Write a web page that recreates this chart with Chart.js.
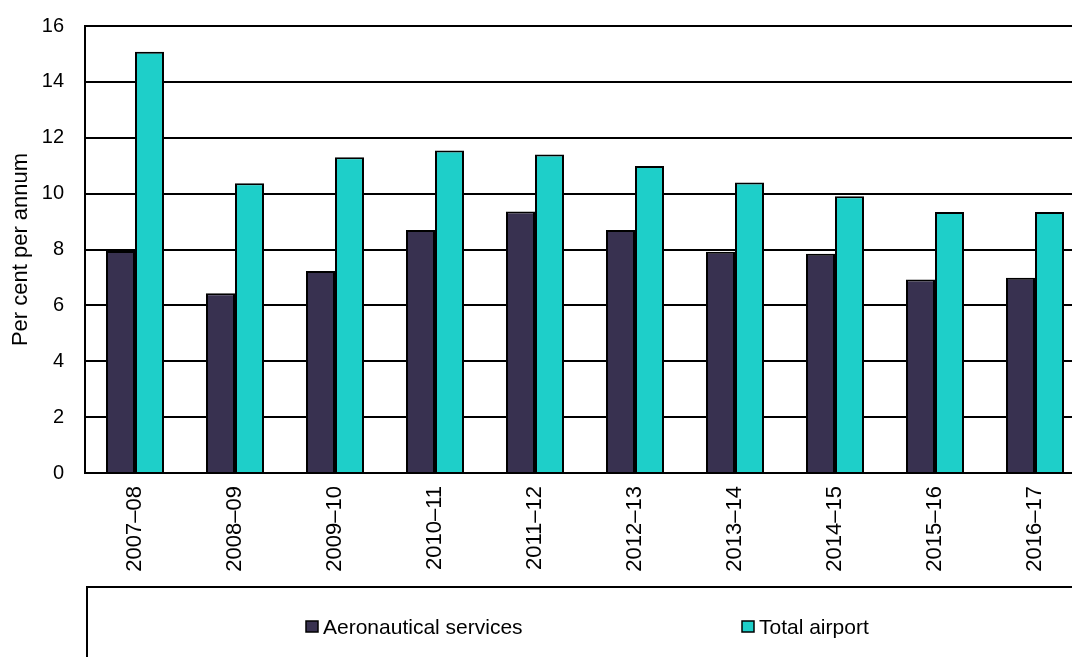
<!DOCTYPE html>
<html>
<head>
<meta charset="utf-8">
<script src="https://cdn.jsdelivr.net/npm/chart.js@4/dist/chart.umd.min.js"></script>
<style>
  html, body { margin: 0; padding: 0; background: #fff; overflow: hidden; }
  #wrap { width: 1090px; height: 657px; }
</style>
</head>
<body>
<div id="wrap"><canvas id="bar-chart" width="1090" height="657"></canvas></div>
<script>
const years = ["2007–08", "2008–09", "2009–10", "2010–11", "2011–12", "2012–13", "2013–14", "2014–15", "2015–16", "2016–17"];
const aeronautical = [7.95, 6.43, 7.23, 8.70, 9.36, 8.70, 7.92, 7.85, 6.93, 6.99];
const totalAirport = [15.08, 10.37, 11.30, 11.54, 11.40, 10.99, 10.40, 9.91, 9.34, 9.34];

const FONT = "'Liberation Sans', Arial, sans-serif";

// legend sits in an open box under the axis labels
const boxLegend = {
  id: 'boxLegend',
  afterDraw(chart) {
    const ctx = chart.ctx;
    ctx.save();
    ctx.strokeStyle = '#000';
    ctx.lineWidth = 2;
    ctx.beginPath();
    ctx.moveTo(87, 670);
    ctx.lineTo(87, 587);
    ctx.lineTo(1100, 587);
    ctx.stroke();

    const spots = [306, 742];
    ctx.font = '21px ' + FONT;
    ctx.textBaseline = 'middle';
    chart.data.datasets.forEach((ds, i) => {
      const x = spots[i];
      ctx.fillStyle = ds.backgroundColor;
      ctx.fillRect(x, 621, 12, 11);
      ctx.lineWidth = 1.5;
      ctx.strokeStyle = '#000';
      ctx.strokeRect(x, 621, 12, 11);
      ctx.fillStyle = '#000';
      ctx.fillText(ds.label, x + 17, 628);
    });
    ctx.restore();
  }
};

new Chart(document.getElementById("bar-chart"), {
  type: 'bar',
  data: {
    labels: years,
    datasets: [
      { label: 'Aeronautical services', data: aeronautical, backgroundColor: '#383150', borderColor: '#000', borderWidth: 2 },
      { label: 'Total airport', data: totalAirport, backgroundColor: '#1ecfc9', borderColor: '#000', borderWidth: 2 }
    ]
  },
  options: {
    responsive: false,
    animation: false,
    layout: { padding: { left: 0, top: 26, right: 5, bottom: 0 } },
    plugins: {
      legend: { display: false },
      tooltip: { enabled: false }
    },
    datasets: {
      bar: { categoryPercentage: 0.58, barPercentage: 1.0 }
    },
    scales: {
      x: {
        grid: { display: false },
        border: { color: '#000', width: 2 },
        ticks: {
          minRotation: 90, maxRotation: 90, padding: 5,
          color: '#000', font: { family: FONT, size: 22 }
        },
        afterFit: (scale) => { scale.height = 184; }
      },
      y: {
        min: 0, max: 16,
        grid: { color: '#000', lineWidth: 2, drawTicks: false },
        border: { color: '#000', width: 2 },
        ticks: {
          stepSize: 2, padding: 21,
          color: '#000', font: { family: FONT, size: 20 }
        },
        title: {
          display: true, text: 'Per cent per annum',
          color: '#000', font: { family: FONT, size: 22 },
          padding: { top: 8, bottom: 0 }
        },
        afterFit: (scale) => {
          scale.width = 85;
          scale.paddingTop = 0;
          scale.paddingBottom = 0;
        }
      }
    }
  },
  plugins: [boxLegend]
});
</script>
</body>
</html>
